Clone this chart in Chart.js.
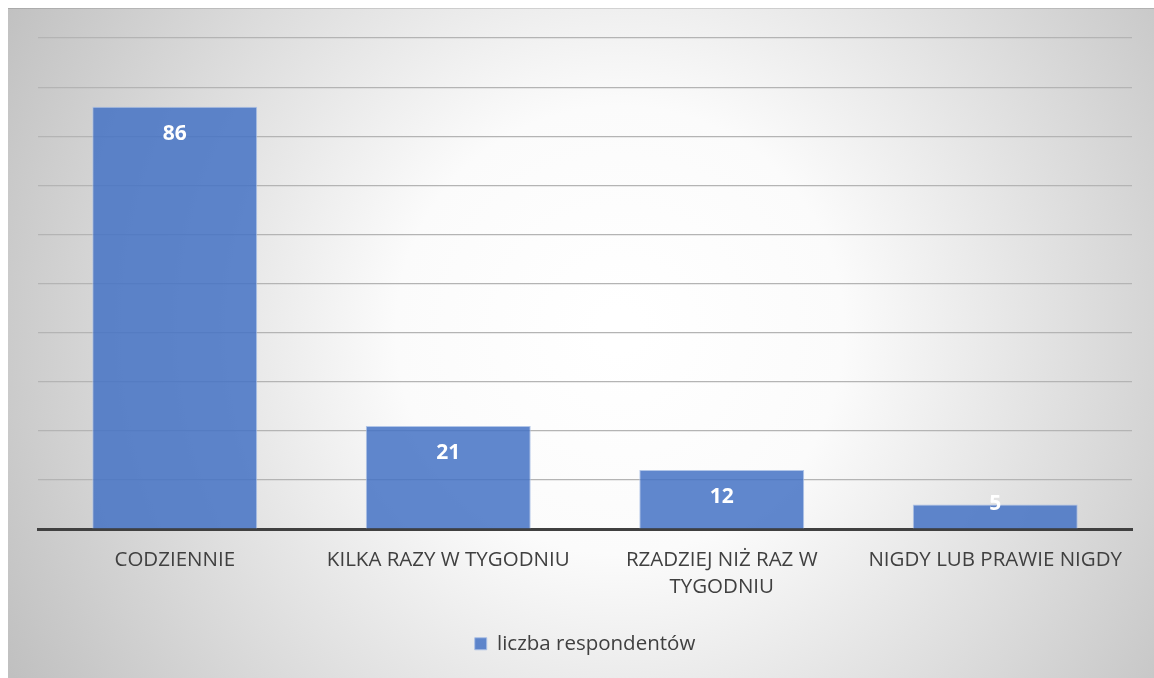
<!DOCTYPE html>
<html>
<head>
<meta charset="utf-8">
<script src="https://cdn.jsdelivr.net/npm/chart.js@4"></script>
<style>
  html, body { margin: 0; padding: 0; background: #ffffff; }
  #wrap { width: 1154px; height: 678px; }
</style>
</head>
<body>
<div id="wrap"><canvas id="wykres" width="1154" height="678"></canvas></div>
<script>
// dane
const kategorie = [
    'CODZIENNIE',
    'KILKA RAZY W TYGODNIU',
    ['RZADZIEJ NIŻ RAZ W', 'TYGODNIU'],
    'NIGDY LUB PRAWIE NIGDY'
];
const liczbaRespondentow = [86, 21, 12, 5];
const nazwaSerii = 'liczba respondentów';
const osYMax = 100;
const osYKrok = 10;

const FONT = '"Open Sans", "Noto Sans", sans-serif';

// tło w stylu Excela: gradient promienisty
const tloWykresu = {
    id: 'tloWykresu',
    beforeDraw(chart) {
        const { ctx, width, height } = chart;
        ctx.save();
        ctx.fillStyle = '#ffffff';
        ctx.fillRect(0, 0, width, height);
        const g = ctx.createRadialGradient(620, 330, 20, 620, 330, 700);
        g.addColorStop(0, '#ffffff');
        g.addColorStop(0.3, '#fbfbfb');
        g.addColorStop(1, '#c0c0c0');
        ctx.fillStyle = g;
        ctx.fillRect(8, 8, width - 8, height - 8);
        ctx.strokeStyle = 'rgba(0,0,0,0.12)';
        ctx.lineWidth = 1;
        ctx.beginPath();
        ctx.moveTo(8, 8.5);
        ctx.lineTo(width, 8.5);
        ctx.stroke();
        ctx.restore();
    }
};

// etykiety wartości wewnątrz słupków
const etykietyWartosci = {
    id: 'etykietyWartosci',
    afterDatasetsDraw(chart) {
        const { ctx } = chart;
        const meta = chart.getDatasetMeta(0);
        ctx.save();
        ctx.fillStyle = '#ffffff';
        ctx.font = 'bold 21px ' + FONT;
        ctx.textAlign = 'center';
        ctx.textBaseline = 'middle';
        meta.data.forEach((bar, i) => {
            const y = Math.min(bar.y + 27, bar.base - 24);
            ctx.fillText(String(liczbaRespondentow[i]), bar.x, y);
        });
        ctx.restore();
    }
};

new Chart(document.getElementById('wykres'), {
    type: 'bar',
    data: {
        labels: kategorie,
        datasets: [{
            label: nazwaSerii,
            data: liczbaRespondentow,
            backgroundColor: 'rgba(68,114,196,0.85)',
            borderColor: 'rgba(170,192,230,0.9)',
            borderWidth: 1,
            barPercentage: 0.603,
            categoryPercentage: 1.0
        }]
    },
    options: {
        responsive: false,
        animation: false,
        layout: { padding: { left: 38, right: 22, top: 38, bottom: 14 } },
        plugins: {
            legend: {
                position: 'bottom',
                labels: {
                    color: '#404040',
                    font: { family: FONT, size: 20.5 },
                    boxWidth: 12,
                    boxHeight: 12,
                    padding: 10
                }
            },
            tooltip: { enabled: false }
        },
        scales: {
            x: {
                grid: { display: false },
                border: { display: true, color: '#404040', width: 3 },
                ticks: {
                    color: '#404040',
                    font: { family: FONT, size: 20.5, lineHeight: 1.35 },
                    maxRotation: 0,
                    autoSkip: false,
                    padding: 9
                },
                afterFit(scale) { scale.height = 94.5; }
            },
            y: {
                min: 0,
                max: osYMax,
                ticks: { display: false, stepSize: osYKrok },
                grid: { color: '#b4b4b4', lineWidth: 1.2, drawTicks: false },
                border: { display: false },
                afterFit(scale) { scale.width = 0; }
            }
        }
    },
    plugins: [tloWykresu, etykietyWartosci]
});
</script>
</body>
</html>
